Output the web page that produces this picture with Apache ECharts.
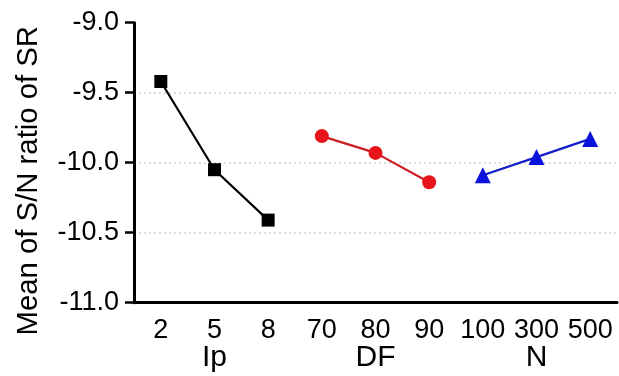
<!DOCTYPE html>
<html>
<head>
<meta charset="utf-8">
<script src="https://cdn.jsdelivr.net/npm/echarts@6/dist/echarts.min.js"></script>
<style>html,body{margin:0;padding:0;background:#fff;}#c{width:619px;height:376px;}</style>
</head>
<body>
<div id="c"></div>
<script>
const categories = ['2', '5', '8', '70', '80', '90', '100', '300', '500'];
const groupNames = ['Ip', 'DF', 'N'];
const ipLevels = ['2', '5', '8'];
const ipValues = [-9.42, -10.05, -10.41];
const dfLevels = ['70', '80', '90'];
const dfValues = [-9.81, -9.93, -10.14];
const nLevels = ['100', '300', '500'];
const nValues = [-10.09, -9.96, -9.83];
const yTicks = [-11.0, -10.5, -10.0, -9.5, -9.0];

const FONT = "'Liberation Sans', Arial, sans-serif";
const pairs = (lv, vs) => lv.map((c, i) => [c, vs[i]]);

const chart = echarts.init(document.getElementById('c'), null, {renderer: 'canvas'});
chart.setOption({
  animation: false,
  backgroundColor: '#fff',
  grid: {left: 134, right: 2, top: 22.7, bottom: 73.3, containLabel: false},
  xAxis: [{
    type: 'category',
    data: categories,
    boundaryGap: true,
    axisLine: {lineStyle: {color: '#000', width: 3}},
    axisTick: {alignWithLabel: true, length: 6, lineStyle: {color: '#000', width: 2.5}},
    axisLabel: {color: '#000', fontSize: 27, fontFamily: FONT, margin: 14, interval: 0},
    splitLine: {show: false}
  }, {
    type: 'category',
    data: groupNames,
    position: 'bottom',
    boundaryGap: true,
    axisLine: {show: false},
    axisTick: {show: false},
    axisLabel: {color: '#000', fontSize: 30, fontFamily: FONT, margin: 40, interval: 0},
    splitLine: {show: false}
  }],
  yAxis: {
    type: 'value',
    min: yTicks[0],
    max: yTicks[yTicks.length - 1],
    interval: 0.5,
    name: 'Mean of S/N ratio of SR',
    nameLocation: 'middle',
    nameGap: 91,
    nameTextStyle: {color: '#000', fontSize: 29.3, fontFamily: FONT, padding: [0, 36, 0, 0]},
    axisLine: {show: true, lineStyle: {color: '#000', width: 3}},
    axisTick: {show: true, length: 9, lineStyle: {color: '#000', width: 2.5}},
    axisLabel: {color: '#000', fontSize: 27, fontFamily: FONT, margin: 15, formatter: v => v.toFixed(1)},
    splitLine: {show: true, lineStyle: {color: ['rgba(0,0,0,0)', '#cfcfcf', '#cfcfcf', '#cfcfcf', 'rgba(0,0,0,0)'], type: [2, 3], width: 1.5}}
  },
  series: [{
    type: 'line',
    data: pairs(ipLevels, ipValues),
    symbol: 'rect',
    symbolSize: 13,
    itemStyle: {color: '#000'},
    lineStyle: {color: '#000', width: 2.2}
  }, {
    type: 'line',
    data: pairs(dfLevels, dfValues),
    symbol: 'circle',
    symbolSize: 14,
    itemStyle: {color: '#e8141b'},
    lineStyle: {color: '#cc1e22', width: 2.2}
  }, {
    type: 'line',
    data: pairs(nLevels, nValues),
    symbol: 'triangle',
    symbolSize: 16,
    itemStyle: {color: '#0a12dc'},
    lineStyle: {color: '#1020c8', width: 2.2}
  }]
});
</script>
</body>
</html>
